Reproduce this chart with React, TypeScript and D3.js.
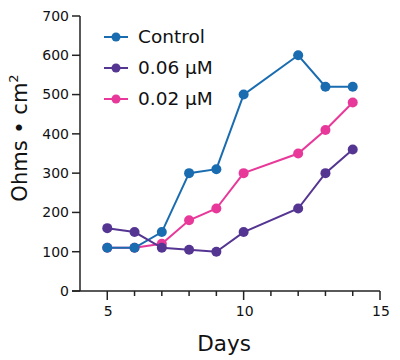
import React from "react";
import * as d3 from "d3";

const days = [5, 6, 7, 8, 9, 10, 12, 13, 14];
const control = [110, 110, 150, 300, 310, 500, 600, 520, 520];
const uM006 = [160, 150, 110, 105, 100, 150, 210, 300, 360];
const uM002 = [110, 110, 120, 180, 210, 300, 350, 410, 480];
const seriesNames = ["Control", "0.06 µM", "0.02 µM"];
const seriesColors = ["#1a6cb0", "#553592", "#e8399a"];
const yTicks = [0, 100, 200, 300, 400, 500, 600, 700];
const xMajor = [5, 10, 15];
const xMinor = [5, 6, 7, 8, 9, 10, 11, 12, 13, 14, 15];

export default function App() {
  const W = 400, H = 360;
  const x = d3.scaleLinear().domain([4, 15]).range([80, 380]);
  const y = d3.scaleLinear().domain([0, 700]).range([291, 16]);
  const font = "DejaVu Sans, Verdana, sans-serif";
  const allSeries = [control, uM006, uM002];
  const drawOrder = [2, 0, 1];
  const line = d3.line<[number, number]>().x(d => x(d[0])).y(d => y(d[1]));
  return (
    <svg width={W} height={H} style={{ position: "absolute", left: 0, top: 0 }} fontFamily={font}>
      <rect width={W} height={H} fill="#fff" />
      {/* y axis */}
      <line x1={x(4)} x2={x(4)} y1={y(700)} y2={y(0)} stroke="#222" strokeWidth={1.5} />
      {yTicks.map(t => (
        <g key={t}>
          <line x1={x(4) - 8} x2={x(4)} y1={y(t)} y2={y(t)} stroke="#222" strokeWidth={1.5} />
          <text x={x(4) - 11} y={y(t)} dy="0.35em" textAnchor="end" fontSize={14} fill="#111">{t}</text>
        </g>
      ))}
      {/* x axis */}
      <line x1={x(4) - 8} x2={x(15)} y1={y(0)} y2={y(0)} stroke="#222" strokeWidth={1.5} />
      {xMinor.map(t => (
        <line key={t} x1={x(t)} x2={x(t)} y1={y(0)} y2={y(0) + (xMajor.includes(t) ? 9 : 5)} stroke="#222" strokeWidth={1.5} />
      ))}
      {xMajor.map(t => (
        <text key={t} x={x(t) + 1} y={316} textAnchor="middle" fontSize={14} fill="#111">{t}</text>
      ))}
      <text x={224} y={351} textAnchor="middle" fontSize={21.5} fill="#111">Days</text>
      <text transform={`translate(27,138) rotate(-90)`} textAnchor="middle" fontSize={21} fill="#111">
        Ohms • cm<tspan dy={-9} fontSize={13}>2</tspan>
      </text>
      {/* series */}
      {drawOrder.map(i => {
        const pts = days.map((d, j) => [d, allSeries[i][j]] as [number, number]);
        return (
          <g key={i}>
            <path d={line(pts) || ""} fill="none" stroke={seriesColors[i]} strokeWidth={2} />
            {pts.map((p, j) => (
              <circle key={j} cx={x(p[0])} cy={y(p[1])} r={5} fill={seriesColors[i]} />
            ))}
          </g>
        );
      })}
      {/* legend */}
      {seriesNames.map((n, i) => (
        <g key={n} transform={`translate(0,${37 + i * 31})`}>
          <line x1={104} x2={128} y1={0} y2={0} stroke={seriesColors[i]} strokeWidth={2} />
          <circle cx={116} cy={0} r={4.5} fill={seriesColors[i]} />
          <text x={138} y={0} dy="0.35em" fontSize={18.5} fill="#111">{n}</text>
        </g>
      ))}
    </svg>
  );
}
